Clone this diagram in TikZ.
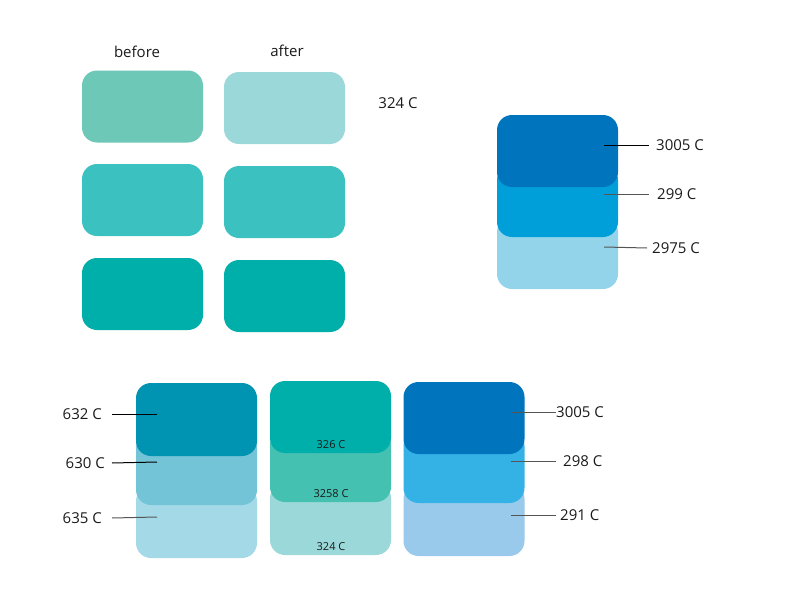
\documentclass[tikz,border=0pt]{standalone}
\usepackage{fontspec}
\setmainfont{Open Sans}
\definecolor{cA}{HTML}{6DC8B7}
\definecolor{cB}{HTML}{9BD8D9}
\definecolor{cC}{HTML}{3CC1C1}
\definecolor{cD}{HTML}{00AFAA}
\definecolor{bDark}{HTML}{0075BE}
\definecolor{bMid}{HTML}{009FDA}
\definecolor{bLight}{HTML}{94D4EA}
\definecolor{pA}{HTML}{0093B2}
\definecolor{pB}{HTML}{73C4D6}
\definecolor{pC}{HTML}{A4DAE8}
\definecolor{gB}{HTML}{44C1B1}
\definecolor{rB}{HTML}{35B2E5}
\definecolor{rC}{HTML}{99CAEC}
\definecolor{txt}{HTML}{1A1A1A}
\definecolor{ln}{HTML}{555555}
\begin{document}
\begin{tikzpicture}[x=1pt,y=-1pt,
  swatch/.style={fill=#1,draw=none,rounded corners=15pt,minimum width=121pt,minimum height=72pt,inner sep=0pt},
  big/.style={font=\fontsize{15}{18}\selectfont,text=txt,inner ysep=0pt},
  small/.style={font=\fontsize{11}{13}\selectfont,text=txt,inner sep=0pt},
  lead/.style={draw=#1,line width=1pt}]
\useasboundingbox (0,0) rectangle (793,613);
% top grid
\node[big] (before) at (137,52) {before};
\node[big] (after) at (287,51) {after};
\node[swatch=cA] (b1) at (142.5,106.5) {};
\node[swatch=cB] (a1) at (284.5,108) {};
\node[swatch=cC] (b2) at (142.5,200) {};
\node[swatch=cC] (a2) at (284.5,202) {};
\node[swatch=cD] (b3) at (142.5,294) {};
\node[swatch=cD] (a3) at (284.5,296) {};
\node[big] (l324) at (398,103) {324 C};
% top right stack
\node[swatch=bLight] (t3) at (557.5,253) {};
\node[swatch=bMid] (t2) at (557.5,201) {};
\node[swatch=bDark] (t1) at (557.5,151) {};
\coordinate (t1c) at (604,145);
\coordinate (t2c) at (604,194);
\coordinate (t3c) at (604,247);
\node[big,anchor=west,inner xsep=7pt] (lt1) at (649,145) {3005 C};
\node[big,anchor=west,inner xsep=8pt] (lt2) at (649,194) {299 C};
\node[big,anchor=west,inner xsep=5pt] (lt3) at (647,248) {2975 C};
\draw[lead=black] (t1c) -- (lt1.west);
\draw[lead=ln] (t2c) -- (lt2.west);
\draw[lead=ln] (t3c) -- (lt3.west);
% bottom left stack
\node[swatch=pC,minimum height=72pt] (p3) at (196.5,522) {};
\node[swatch=pB,minimum height=72pt] (p2) at (196.5,469) {};
\node[swatch=pA,minimum height=73pt] (p1) at (196.5,419.5) {};
\coordinate (p1c) at (157,414);
\coordinate (p2c) at (157,462);
\coordinate (p3c) at (157,517);
\node[big,anchor=east,inner xsep=10pt] (lp1) at (112,414) {632 C};
\node[big,anchor=east,inner xsep=7pt] (lp2) at (112,463) {630 C};
\node[big,anchor=east,inner xsep=10pt] (lp3) at (112,518) {635 C};
\draw[lead=black] (lp1.east) -- (p1c);
\draw[lead=black] (lp2.east) -- (p2c);
\draw[lead=ln] (lp3.east) -- (p3c);
% middle stack
\node[swatch=cB] (g3) at (330.5,519) {};
\node[swatch=gB] (g2) at (330.5,466) {};
\node[swatch=cD] (g1) at (330.5,417) {};
\node[small] (lg1) at (331,445) {326 C};
\node[small] (lg2) at (331,494) {3258 C};
\node[small] (lg3) at (331,547) {324 C};
% bottom right stack
\node[swatch=rC] (r3) at (464,520) {};
\node[swatch=rB] (r2) at (464,467) {};
\node[swatch=bDark] (r1) at (464,418) {};
\coordinate (r1c) at (511,412);
\coordinate (r2c) at (511,461);
\coordinate (r3c) at (511,515);
\node[big,anchor=west,inner xsep=0pt] (lr1) at (556,412) {3005 C};
\node[big,anchor=west,inner xsep=7pt] (lr2) at (556,461) {298 C};
\node[big,anchor=west,inner xsep=4pt] (lr3) at (556,515) {291 C};
\draw[lead=ln] (r1c) -- (lr1.west);
\draw[lead=ln] (r2c) -- (lr2.west);
\draw[lead=ln] (r3c) -- (lr3.west);
\end{tikzpicture}
\end{document}
